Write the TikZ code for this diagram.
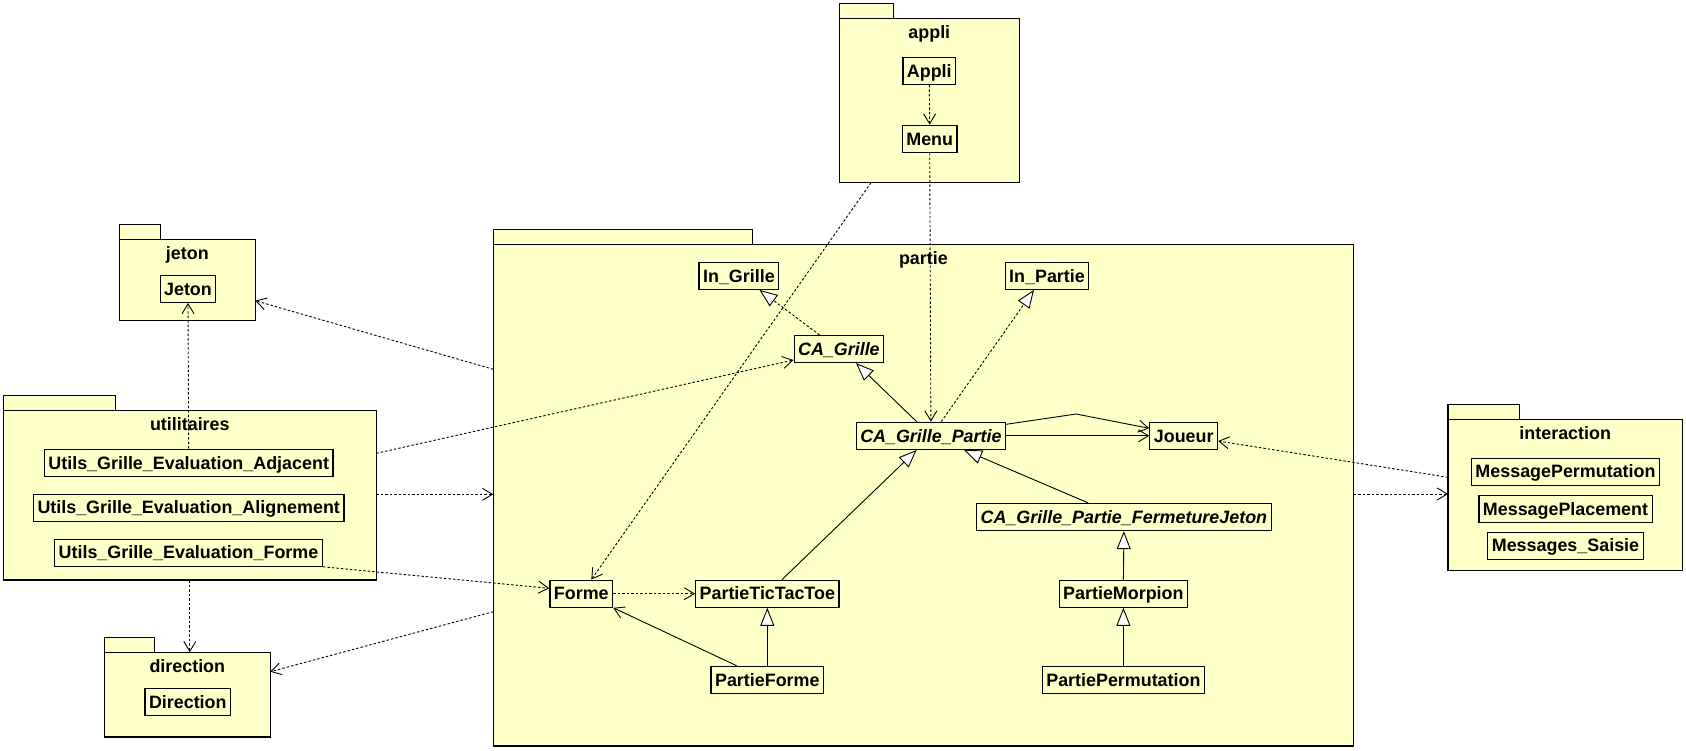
\documentclass[tikz,border=0pt]{standalone}
\usepackage{fontspec}
\setmainfont{Liberation Sans}
\usetikzlibrary{arrows.meta}
\definecolor{pkgfill}{RGB}{255,255,200}
\begin{document}
\begin{tikzpicture}[x=1pt,y=-1pt,
  font=\fontsize{17.9}{21}\selectfont\bfseries,
  pkgbody/.style={draw, fill=pkgfill, line width=1.2pt, inner sep=0pt, outer sep=0pt, anchor=north west},
  pkgtab/.style={draw, fill=pkgfill, line width=1.2pt, inner sep=0pt, outer sep=0pt, minimum height=15pt, anchor=south west},
  pkgtitle/.style={anchor=base, inner sep=0pt},
  cls/.style={draw, fill=pkgfill, line width=1.2pt, inner xsep=4pt, inner ysep=6.7pt, text height=13pt, text depth=0.6pt},
  abstract/.style={cls, font=\fontsize{17.9}{21}\selectfont\bfseries\itshape},
  dep/.style={line width=0.9pt, dash pattern=on 2.5pt off 2pt, -{Straight Barb[length=10pt,width=12pt]}},
  assoc/.style={line width=0.9pt, -{Straight Barb[length=10pt,width=12pt]}},
  inherit/.style={line width=0.9pt, -{Triangle[length=18pt,width=14pt,fill=white]}},
  realize/.style={inherit, dash pattern=on 2.5pt off 2pt},
]
\fill[white] (0,0) rectangle (1686,750);
\useasboundingbox (0,0) rectangle (1686,750);

% ---------- packages ----------
\node[pkgbody, minimum width=180pt, minimum height=164.4pt] (appli) at (839.3,18.3) {};
\node[pkgtab, minimum width=54pt] (appliTab) at (appli.north west) {};
\node[pkgtitle] (appliT) at ([yshift=-19.7pt]appli.north) {appli};

\node[pkgbody, minimum width=136pt, minimum height=81pt] (jeton) at (119.3,239.3) {};
\node[pkgtab, minimum width=41.4pt] (jetonTab) at (jeton.north west) {};
\node[pkgtitle] (jetonT) at ([yshift=-19.7pt]jeton.north) {jeton};

\node[pkgbody, minimum width=373pt, minimum height=169.7pt] (util) at (3.3,410.3) {};
\node[pkgtab, minimum width=112pt] (utilTab) at (util.north west) {};
\node[pkgtitle] (utilT) at ([yshift=-19.7pt]util.north) {utilitaires};

\node[pkgbody, minimum width=860.2pt, minimum height=501.7pt] (partie) at (493.3,244.3) {};
\node[pkgtab, minimum width=258.9pt] (partieTab) at (partie.north west) {};
\node[pkgtitle] (partieT) at ([yshift=-19.7pt]partie.north) {partie};

\node[pkgbody, minimum width=234.4pt, minimum height=151pt] (inter) at (1448,419.3) {};
\node[pkgtab, minimum width=71.7pt] (interTab) at (inter.north west) {};
\node[pkgtitle] (interT) at ([yshift=-19.7pt]inter.north) {interaction};

\node[pkgbody, minimum width=166pt, minimum height=84.7pt] (direction) at (104.3,652.3) {};
\node[pkgtab, minimum width=50pt] (directionTab) at (direction.north west) {};
\node[pkgtitle] (directionT) at ([yshift=-19.7pt]direction.north) {direction};

% ---------- classes ----------
\node[cls] (appliC) at (929.3,70.8) {Appli};
\node[cls] (menuC) at (929.7,138.8) {Menu};

\node[cls] (jetonC) at (188,288.8) {Jeton};

\node[cls] (uadj) at (188.7,462.8) {Utils\_Grille\_Evaluation\_Adjacent};
\node[cls] (ualign) at (188.7,507.7) {Utils\_Grille\_Evaluation\_Alignement};
\node[cls] (uforme) at (188.5,552.7) {Utils\_Grille\_Evaluation\_Forme};

\node[cls] (ingrille) at (738.9,275.8) {In\_Grille};
\node[cls] (inpartie) at (1047,275.8) {In\_Partie};
\node[abstract] (cag) at (838.9,349) {CA\_Grille};
\node[abstract] (cagp) at (930.9,435.8) {CA\_Grille\_Partie};
\node[cls] (joueur) at (1183.7,435.8) {Joueur};
\node[abstract] (fj) at (1123.9,517) {CA\_Grille\_Partie\_FermetureJeton};
\node[cls] (forme) at (581.3,593.7) {Forme};
\node[cls] (pttt) at (767.3,593.7) {PartieTicTacToe};
\node[cls] (pmorpion) at (1123.4,593.7) {PartieMorpion};
\node[cls] (pforme) at (767.3,679.8) {PartieForme};
\node[cls] (pperm) at (1123.4,679.8) {PartiePermutation};

\node[cls] (mperm) at (1565.5,471.7) {MessagePermutation};
\node[cls] (mplac) at (1565.5,508.8) {MessagePlacement};
\node[cls] (msaisie) at (1565.5,545.7) {Messages\_Saisie};

\node[cls] (directionC) at (187.8,701.8) {Direction};

% ---------- dependencies ----------
\coordinate (u2p) at ([yshift=-84pt]util.north east);
\coordinate (p2i) at ([yshift=-249.7pt]partie.north east);

\draw[dep] (appliC.south) -- (menuC.north);
\draw[dep] (menuC.south) -- (cagp.north);
\draw[dep] ([xshift=31.7pt]appli.south west) -- ([xshift=10pt]forme.north);
\draw[dep] ([yshift=-125pt]partie.north west) -- ([yshift=-61.4pt]jeton.north east);
\draw[dep] (uadj.north) -- (jetonC.south);
\draw[dep] ([yshift=-43pt]util.north east) -- ([yshift=-11pt]cag.west);
\draw[dep] (u2p) -- (u2p -| partie.west);
\draw[dep] (uforme.south east) -- ([yshift=5.4pt]forme.west);
\draw[dep] ([yshift=-367.4pt]partie.north west) -- ([yshift=-19.4pt]direction.north east);
\draw[dep] (util.south) -- (util.south |- direction.north);
\draw[dep] ([yshift=-58pt]inter.north west) -- ([yshift=-5.2pt]joueur.east);
\draw[dep] (p2i) -- (p2i -| inter.west);
\draw[dep] (forme.east) -- (pttt.west);

% ---------- realizations and generalizations ----------
\draw[realize] ([xshift=-19.4pt]cag.north) -- ([xshift=20.6pt]ingrille.south);
\draw[realize] ([xshift=10.3pt]cagp.north) -- ([xshift=-13pt]inpartie.south);
\draw[inherit] ([xshift=-14.2pt]cagp.north) -- ([xshift=17.1pt]cag.south);
\draw[inherit] ([xshift=14.7pt]pttt.north) -- ([xshift=-14.2pt]cagp.south);
\draw[inherit] ([xshift=-35.7pt]fj.north) -- ([xshift=33.1pt]cagp.south);
\draw[inherit] (pmorpion.north) -- (fj.south);
\draw[inherit] (pperm.north) -- (pmorpion.south);
\draw[inherit] (pforme.north) -- (pttt.south);

% ---------- associations ----------
\draw[assoc] ([xshift=-30.7pt]pforme.north) -- (forme.south east);
\draw[assoc] (cagp.east) -- (joueur.west);
\draw[assoc] ([yshift=11.5pt]cagp.east) -- ++(70pt,10.3pt) -- ([yshift=7.5pt]joueur.west);
\end{tikzpicture}
\end{document}
